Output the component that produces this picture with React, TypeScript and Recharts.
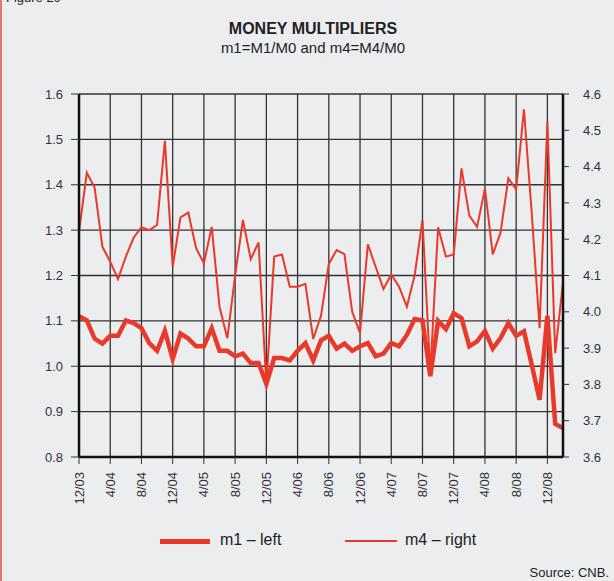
import { LineChart, Line, XAxis, YAxis, CartesianGrid } from 'recharts';

const months = [
  '12/03', '1/04', '2/04', '3/04', '4/04', '5/04', '6/04', '7/04', '8/04', '9/04', '10/04', '11/04',
  '12/04', '1/05', '2/05', '3/05', '4/05', '5/05', '6/05', '7/05', '8/05', '9/05', '10/05', '11/05',
  '12/05', '1/06', '2/06', '3/06', '4/06', '5/06', '6/06', '7/06', '8/06', '9/06', '10/06', '11/06',
  '12/06', '1/07', '2/07', '3/07', '4/07', '5/07', '6/07', '7/07', '8/07', '9/07', '10/07', '11/07',
  '12/07', '1/08', '2/08', '3/08', '4/08', '5/08', '6/08', '7/08', '8/08', '9/08', '10/08', '11/08',
  '12/08', '1/09', '2/09',
];

// m1 = M1/M0, left axis
const m1 = [
  1.110, 1.101, 1.061, 1.050, 1.067, 1.067, 1.101, 1.095, 1.084, 1.051,
  1.034, 1.078, 1.016, 1.072, 1.061, 1.044, 1.044, 1.084, 1.034, 1.034,
  1.022, 1.028, 1.007, 1.007, 0.961, 1.018, 1.018, 1.013, 1.034, 1.051,
  1.013, 1.057, 1.067, 1.039, 1.050, 1.034, 1.044, 1.051, 1.022, 1.028,
  1.051, 1.044, 1.069, 1.104, 1.101, 0.978, 1.100, 1.082, 1.117, 1.106,
  1.044, 1.055, 1.078, 1.039, 1.062, 1.095, 1.067, 1.077, 1.003, 0.926,
  1.111, 0.873, 0.864,
];

// m4 = M4/M0, right axis
const m4 = [
  4.221, 4.383, 4.342, 4.179, 4.138, 4.090, 4.152, 4.204, 4.233, 4.225,
  4.239, 4.471, 4.124, 4.260, 4.273, 4.175, 4.134, 4.234, 4.014, 3.927,
  4.100, 4.253, 4.145, 4.191, 3.800, 4.152, 4.158, 4.069, 4.069, 4.077,
  3.925, 3.989, 4.132, 4.170, 4.159, 4.000, 3.941, 4.186, 4.124, 4.063,
  4.103, 4.069, 4.014, 4.101, 4.253, 3.830, 4.233, 4.152, 4.158, 4.395,
  4.265, 4.234, 4.340, 4.158, 4.218, 4.368, 4.337, 4.558, 4.270, 3.955,
  4.524, 3.886, 4.080,
];

const xTicks = [0, 4, 8, 12, 16, 20, 24, 28, 32, 36, 40, 44, 48, 52, 56, 60];
const leftTicks = [0.8, 0.9, 1.0, 1.1, 1.2, 1.3, 1.4, 1.5, 1.6];
const rightTicks = [3.6, 3.7, 3.8, 3.9, 4.0, 4.1, 4.2, 4.3, 4.4, 4.5, 4.6];

const data = months.map((label, i) => ({ i, label, m1: m1[i], m4: m4[i] }));

const RED = '#E8392B';
const FONT = '"Liberation Sans", Arial, sans-serif';

function MonthTick(props: any) {
  const { x, y, payload } = props;
  return (
    <text
      x={0}
      y={0}
      transform={`translate(${x},${y + 6}) rotate(-90)`}
      textAnchor="end"
      dominantBaseline="central"
      fontSize={13}
      fontFamily={FONT}
      fill="#333"
    >
      {months[payload.value]}
    </text>
  );
}

export default function App() {
  return (
    <div
      style={{
        position: 'absolute',
        left: 0,
        top: 0,
        width: 614,
        height: 581,
        background: '#ECEDEF',
        overflow: 'hidden',
        fontFamily: FONT,
        color: '#222',
      }}
    >
      <div style={{ position: 'absolute', left: 0, top: 0, width: 2, height: 581, background: '#E8756A' }} />
      <div style={{ position: 'absolute', left: 6, top: -10, fontSize: 13 }}>Figure 29</div>
      <div style={{ position: 'absolute', left: 0, width: 626, top: 20, textAlign: 'center', fontSize: 16, fontWeight: 'bold' }}>
        MONEY MULTIPLIERS
      </div>
      <div style={{ position: 'absolute', left: 0, width: 626, top: 39, textAlign: 'center', fontSize: 15 }}>
        m1=M1/M0 and m4=M4/M0
      </div>

      <LineChart width={614} height={581} data={data} margin={{ top: 94, right: 0, bottom: 64, left: 0 }}>
        <CartesianGrid stroke="#333" strokeWidth={1.3} />
        <XAxis
          dataKey="i"
          type="number"
          domain={[0, 62]}
          ticks={xTicks}
          interval={0}
          height={60}
          tickSize={7}
          tick={<MonthTick />}
          axisLine={{ stroke: '#111', strokeWidth: 2.5 }}
          tickLine={{ stroke: '#333' }}
        />
        <YAxis
          domain={[0.8, 1.6]}
          ticks={leftTicks}
          interval={0}
          width={79}
          tickSize={8}
          tickMargin={8}
          tickFormatter={(v: number) => v.toFixed(1)}
          tick={{ fontSize: 13, fill: '#333', fontFamily: FONT }}
          axisLine={{ stroke: '#111', strokeWidth: 2.5 }}
          tickLine={{ stroke: '#333' }}
        />
        <YAxis
          yAxisId="right"
          orientation="right"
          domain={[3.6, 4.6]}
          ticks={rightTicks}
          interval={0}
          width={51}
          tickSize={6}
          tickMargin={14}
          tickFormatter={(v: number) => v.toFixed(1)}
          tick={{ fontSize: 13, fill: '#333', fontFamily: FONT, textAnchor: 'start' }}
          axisLine={{ stroke: '#111', strokeWidth: 2.5 }}
          tickLine={{ stroke: '#333' }}
        />
        <Line type="linear" dataKey="m4" yAxisId="right" stroke={RED} strokeWidth={2} dot={false} isAnimationActive={false} />
        <Line type="linear" dataKey="m1" stroke={RED} strokeWidth={4.5} dot={false} isAnimationActive={false} />
      </LineChart>

      <div style={{ position: 'absolute', left: 160, top: 539, width: 50, height: 5, background: RED }} />
      <div style={{ position: 'absolute', left: 220, top: 531, fontSize: 16 }}>m1 – left</div>
      <div style={{ position: 'absolute', left: 345, top: 540, width: 52, height: 2, background: RED }} />
      <div style={{ position: 'absolute', left: 405, top: 531, fontSize: 16 }}>m4 – right</div>
      <div style={{ position: 'absolute', right: 5, top: 565, fontSize: 13 }}>Source: CNB.</div>
    </div>
  );
}
